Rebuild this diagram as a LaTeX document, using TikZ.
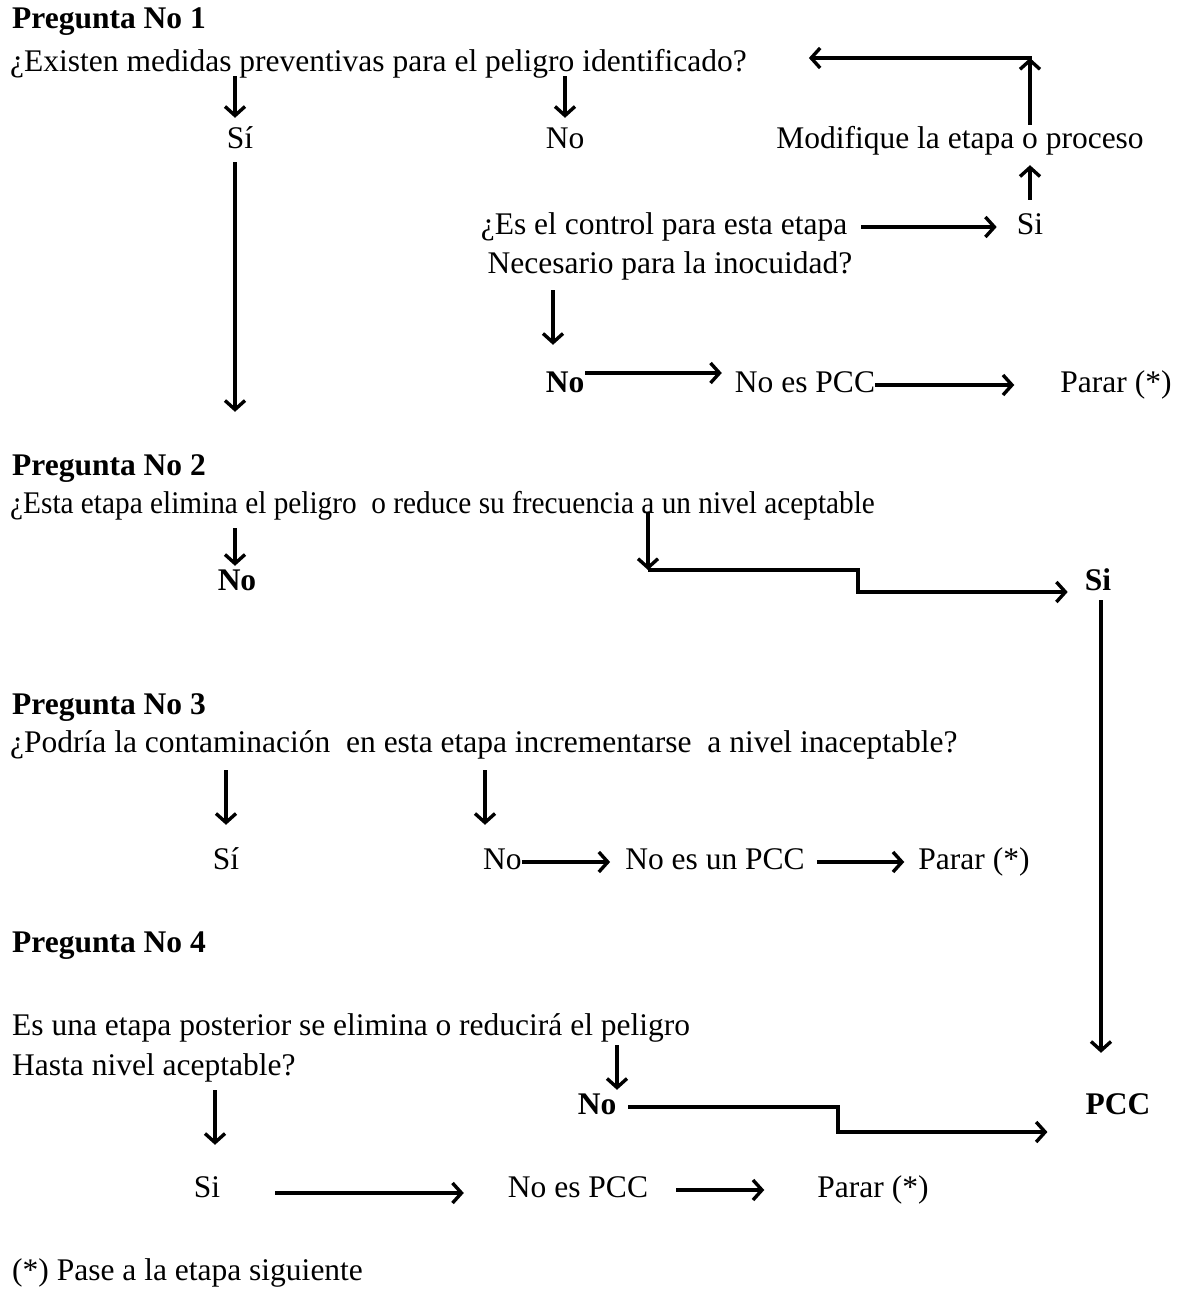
\documentclass[tikz,border=0pt]{standalone}
\usepackage{fontspec}
\setmainfont{Liberation Serif}
\usetikzlibrary{arrows.meta}
\begin{document}
\begin{tikzpicture}[x=1pt,y=-1pt,
  txt/.style={inner sep=0pt, text height=21pt, text depth=7pt, font=\fontsize{31.5}{38}\selectfont},
  bt/.style={txt, font=\fontsize{31.5}{38}\selectfont\bfseries},
  arr/.style={line width=3.4pt, line join=miter, -{Straight Barb[length=9pt,width=20pt]}},
]
\useasboundingbox[fill=white] (0,0) rectangle (1177,1292);

% ---------- Pregunta 1
\node[bt,anchor=west] (p1) at (12,22) {Pregunta No 1};
\node[txt,anchor=west] (q1) at (10,65) {¿Existen medidas preventivas para el peligro identificado?};
\node[txt] (si1) at (240,142) {Sí};
\node[txt] (no1) at (565,142) {No};
\node[txt] (mod) at (960,142) {Modifique la etapa o proceso};
\node[txt] (ctrl1) at (664,227) {¿Es el control para esta etapa};
\node[txt] (ctrl2) at (670,266) {Necesario para la inocuidad?};
\node[txt] (si1b) at (1030,227) {Si};
\node[bt] (no1b) at (565,385) {No};
\node[txt] (npc1) at (805,385) {No es PCC};
\node[txt] (par1) at (1116,385) {Parar (*)};
\coordinate (c1) at (1030,58);

% ---------- Pregunta 2
\node[bt,anchor=west] (p2) at (12,468) {Pregunta No 2};
\node[txt,anchor=west] (q2) at (10,506) {\scalebox{0.93}[1]{¿Esta etapa elimina el peligro\ \ o reduce su frecuencia a un nivel aceptable}};
\node[bt] (no2) at (237,583) {No};
\node[bt] (si2) at (1098,583) {Si};
\coordinate (b2) at (648,570);
\coordinate (b3) at (858,592);

% ---------- Pregunta 3
\node[bt,anchor=west] (p3) at (12,707) {Pregunta No 3};
\node[txt,anchor=west] (q3) at (10,745) {¿Podría la contaminación\ \ en esta etapa incrementarse\ \ a nivel inaceptable?};
\node[txt] (si3) at (226,862) {Sí};
\node[txt,anchor=west] (no3) at (483,862) {No};
\node[txt] (npc3) at (715,862) {No es un PCC};
\node[txt] (par3) at (974,862) {Parar (*)};

% ---------- Pregunta 4
\node[bt,anchor=west] (p4) at (12,945) {Pregunta No 4};
\node[txt,anchor=west] (q4a) at (12,1028) {Es una etapa posterior se elimina o reducirá el peligro};
\node[txt,anchor=west] (q4b) at (12,1068) {Hasta nivel aceptable?};
\node[bt] (no4) at (597,1107) {No};
\node[bt] (pcc) at (1118,1107) {PCC};
\node[txt] (si4) at (207,1190) {Si};
\node[txt] (npc4) at (578,1190) {No es PCC};
\node[txt] (par4) at (873,1190) {Parar (*)};
\coordinate (b4) at (838,1132);
\node[txt,anchor=west] (foot) at (12,1273) {(*) Pase a la etapa siguiente};

% ---------- connectors, Pregunta 1
\draw[arr,shorten <=-3pt,shorten >=10pt] ([xshift=-5pt]si1.north |- q1.south) -- ([xshift=-5pt]si1.north);
\draw[arr,shorten <=-3pt,shorten >=10pt] (no1.north |- q1.south) -- (no1.north);
\draw[arr,shorten <=6pt,shorten >=42pt] ([xshift=-5pt]si1.south) -- ([xshift=-5pt]si1.south |- p2.north);
\draw[arr,shorten <=3pt] ([xshift=70pt]mod.north) -- (c1);
\draw[arr,shorten <=-1.7pt,shorten >=62pt] (c1) -- (q1.east |- c1);
\draw[arr,shorten <=13pt,shorten >=9pt] (si1b.north) -- ([xshift=70pt]mod.south);
\draw[arr,shorten <=14pt,shorten >=20pt] (ctrl1.east) -- (si1b.west);
\draw[arr,shorten <=10pt,shorten >=26pt] ([xshift=-12pt]no1b.north |- ctrl2.south) -- ([xshift=-12pt]no1b.north);
\draw[arr,shorten <=1pt,shorten >=13pt] ([yshift=12pt]no1b.east) -- ([yshift=12pt]npc1.west);
\draw[arr,shorten >=46pt] (npc1.east) -- (par1.west);

% ---------- connectors, Pregunta 2
\draw[arr,shorten <=8pt,shorten >=3pt] ([xshift=-2pt]no2.north |- q2.south) -- ([xshift=-2pt]no2.north);
\draw[arr,shorten <=-8pt] (b2 |- q2.south) -- (b2);
\draw[arr] (b2) -| (b3) -- ([xshift=-17pt]si2.west |- b3);
\draw[arr,shorten <=3pt,shorten >=40pt] ([xshift=3pt]si2.south) -- ([xshift=-17pt]pcc.north);

% ---------- connectors, Pregunta 3
\draw[arr,shorten <=11pt,shorten >=23pt] (si3.north |- q3.south) -- (si3.north);
\draw[arr,shorten <=11pt,shorten >=23pt] ([xshift=2pt]no3.north west |- q3.south) -- ([xshift=2pt]no3.north west);
\draw[arr,shorten >=15pt] (no3.east) -- (npc3.west);
\draw[arr,shorten <=12pt,shorten >=14pt] (npc3.east) -- (par3.west);

% ---------- connectors, Pregunta 4
\draw[arr,shorten <=3pt,shorten >=3pt] ([xshift=20pt]no4.north |- q4a.south) -- ([xshift=20pt]no4.north);
\draw[arr,shorten <=12pt] (no4.east) -| (b4) -- ([xshift=-38pt]pcc.west |- b4);
\draw[arr,shorten <=8pt,shorten >=31pt] ([xshift=8pt]si4.north |- q4b.south) -- ([xshift=8pt]si4.north);
\draw[arr,shorten <=55pt,shorten >=44pt] ([yshift=-3pt]si4.east) -- ([yshift=-3pt]npc4.west);
\draw[arr,shorten <=28pt,shorten >=53pt] (npc4.east) -- (par4.west);
\end{tikzpicture}
\end{document}
